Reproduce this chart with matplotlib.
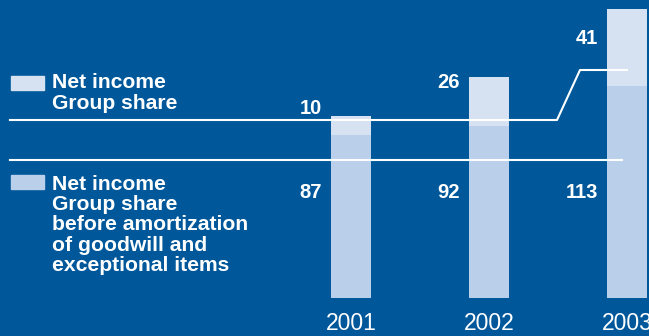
import matplotlib.pyplot as plt

plt.rcParams['font.family'] = ['Liberation Sans', 'DejaVu Sans']

years = ['2001', '2002', '2003']
before_amort = [87, 92, 113]      # net income group share before amortization of goodwill
net_income = [10, 26, 41]         # net income group share

bg = '#00589b'
c_net = '#d6e2f2'
c_before = '#b9cfea'

W, H = 649, 336
fig = plt.figure(figsize=(W / 100, H / 100), dpi=100, facecolor=bg)

def fx(p):
    return p / W

def fy(p):
    return 1 - p / H

# axes spans the whole width, value 0 sits at y=298 px
ax = fig.add_axes([0, (H - 298) / H, 1, 298 / H])
ax.set_facecolor(bg)
x = list(range(len(years)))
px_per_unit = 1.874
ax.set_ylim(0, 298 / px_per_unit)
ax.set_xlim((0 - 351) / 138, (W - 351) / 138)

bw = 40 / 138
ax.bar(x, before_amort, width=bw, color=c_before, zorder=2)
ax.bar(x, net_income, width=bw, bottom=before_amort, color=c_net, zorder=2)

# value labels sit left of each bar
top_label_y = [108, 82, 38]   # pixel rows of the net income labels
for xi, n, py in zip(x, net_income, top_label_y):
    ax.text(xi - 0.21, (298 - py) / px_per_unit, str(n), ha='right', va='center',
            color='white', fontsize=14.5, fontweight='bold')
for xi, b in zip(x, before_amort):
    ax.text(xi - 0.21, (298 - 192) / px_per_unit, str(b), ha='right', va='center',
            color='white', fontsize=14.5, fontweight='bold')

ax.set_xticks(x)
ax.set_xticklabels(years, color='white', fontsize=16.5)
ax.tick_params(axis='x', length=0, pad=10)
ax.set_yticks([])
for s in ax.spines.values():
    s.set_visible(False)

# separator lines
fig.add_artist(plt.Line2D([fx(10), fx(557), fx(580), fx(627)],
                          [fy(120), fy(120), fy(70), fy(70)],
                          color='white', lw=1.5, zorder=5))
fig.add_artist(plt.Line2D([fx(10), fx(622)], [fy(160), fy(160)],
                          color='white', lw=1.5, zorder=5))

# legend
fig.add_artist(plt.Rectangle((fx(11), fy(90)), 33 / W, 14 / H, color=c_net))
fig.add_artist(plt.Rectangle((fx(11), fy(189)), 33 / W, 14 / H, color=c_before))
fig.text(fx(52), fy(93), 'Net income\nGroup share', color='white', fontsize=15.2,
         fontweight='bold', va='center', ha='left', linespacing=1.08)
fig.text(fx(52), fy(225), 'Net income\nGroup share\nbefore amortization\nof goodwill and\nexceptional items',
         color='white', fontsize=15.2, fontweight='bold', va='center', ha='left',
         linespacing=1.08)

fig.savefig('out.png', dpi=100, facecolor=bg)
